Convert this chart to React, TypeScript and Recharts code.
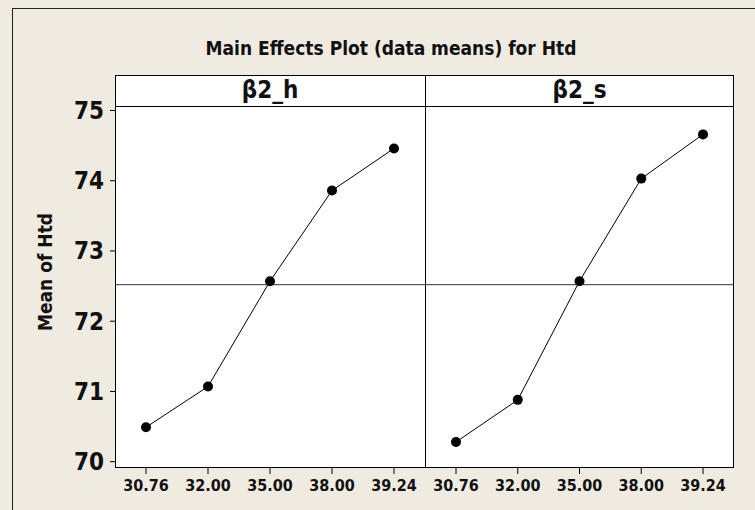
import { Line, LineChart, ReferenceLine, XAxis, YAxis } from "recharts";

const levels = ['30.76', '32.00', '35.00', '38.00', '39.24'];
const beta2h = [70.49, 71.07, 72.57, 73.86, 74.46];
const beta2s = [70.28, 70.88, 72.57, 74.03, 74.66];
const grandMean = 72.52;
const yTicks = [70, 71, 72, 73, 74, 75];
const panelNames = ['β2_h', 'β2_s'];

// Tahoma-like: narrow and tall
const FONT = "'DejaVu Sans Condensed', 'DejaVu Sans', sans-serif";
const BG = '#EFEBE1';
const DOMAIN: [number, number] = [69.91, 75.064];

const leftData = levels.map((level, i) => ({ level, mean: beta2h[i] }));
const rightData = levels.map((level, i) => ({ level, mean: beta2s[i] }));

const xTick = { fontSize: 16, fontWeight: 700, fill: '#111', fontFamily: FONT };
const yTick = { fontSize: 24, fontWeight: 700, fill: '#111', fontFamily: FONT };

const abs = (left: number, top: number, width: number, height: number) => ({
  position: 'absolute' as const, left, top, width, height,
});

export default function App() {
  return (
    <div style={{ position: 'fixed', left: 0, top: 0, width: 755, height: 510, overflow: 'hidden', background: BG, fontFamily: FONT }}>
      {/* outer frame, runs off the right and bottom */}
      <div style={{ ...abs(12, 8, 800, 560), borderLeft: '1px solid #222', borderTop: '1px solid #222' }} />

      <div style={{ ...abs(191, 36, 400, 24), textAlign: 'center', fontSize: 19, fontWeight: 700, lineHeight: '24px', color: '#111' }}>
        Main Effects Plot (data means) for Htd
      </div>

      <div style={{ ...abs(-15, 260, 120, 24), transform: 'rotate(-90deg)', textAlign: 'center', fontSize: 19, fontWeight: 700, lineHeight: '24px', color: '#111' }}>
        Mean of Htd
      </div>

      {/* white panel background */}
      <div style={{ ...abs(115, 75, 619, 393), background: '#fff' }} />

      <div style={{ ...abs(0, 0, 425, 510) }}>
        <LineChart width={425} height={510} data={leftData} margin={{ top: 106, right: 0, bottom: 0, left: 0 }}>
          <XAxis dataKey="level" height={42} padding={{ left: 31, right: 31 }} axisLine={false}
            tickLine={{ stroke: '#000' }} tickSize={6} tickMargin={6} tick={xTick} interval={0} />
          <YAxis width={115} domain={DOMAIN} ticks={yTicks} allowDataOverflow axisLine={false}
            tickLine={{ stroke: '#000' }} tickSize={5} tickMargin={6} tick={yTick} />
          <ReferenceLine y={grandMean} stroke="#333" strokeWidth={1} />
          <Line dataKey="mean" stroke="#000" strokeWidth={1} isAnimationActive={false}
            dot={{ r: 5, fill: '#000', stroke: '#000', strokeWidth: 0 }} />
        </LineChart>
      </div>

      <div style={{ ...abs(425, 0, 330, 510) }}>
        <LineChart width={330} height={510} data={rightData} margin={{ top: 106, right: 21, bottom: 0, left: 0 }}>
          <XAxis dataKey="level" height={42} padding={{ left: 31, right: 31 }} axisLine={false}
            tickLine={{ stroke: '#000' }} tickSize={6} tickMargin={6} tick={xTick} interval={0} />
          <YAxis hide width={0} domain={DOMAIN} ticks={yTicks} allowDataOverflow />
          <ReferenceLine y={grandMean} stroke="#333" strokeWidth={1} />
          <Line dataKey="mean" stroke="#000" strokeWidth={1} isAnimationActive={false}
            dot={{ r: 5, fill: '#000', stroke: '#000', strokeWidth: 0 }} />
        </LineChart>
      </div>

      {/* panel frames and strip headers */}
      <div style={{ ...abs(115, 75, 619, 393), border: '1px solid #000', boxSizing: 'border-box' }} />
      <div style={{ ...abs(425, 75, 1, 393), background: '#000' }} />
      <div style={{ ...abs(115, 106, 619, 1), background: '#000' }} />
      {panelNames.map((name, i) => (
        <div key={name} style={{ ...abs(i === 0 ? 115 : 425, 75, i === 0 ? 310 : 309, 31), textAlign: 'center', fontSize: 24, fontWeight: 700, lineHeight: '30px', color: '#111' }}>
          {name}
        </div>
      ))}
    </div>
  );
}
